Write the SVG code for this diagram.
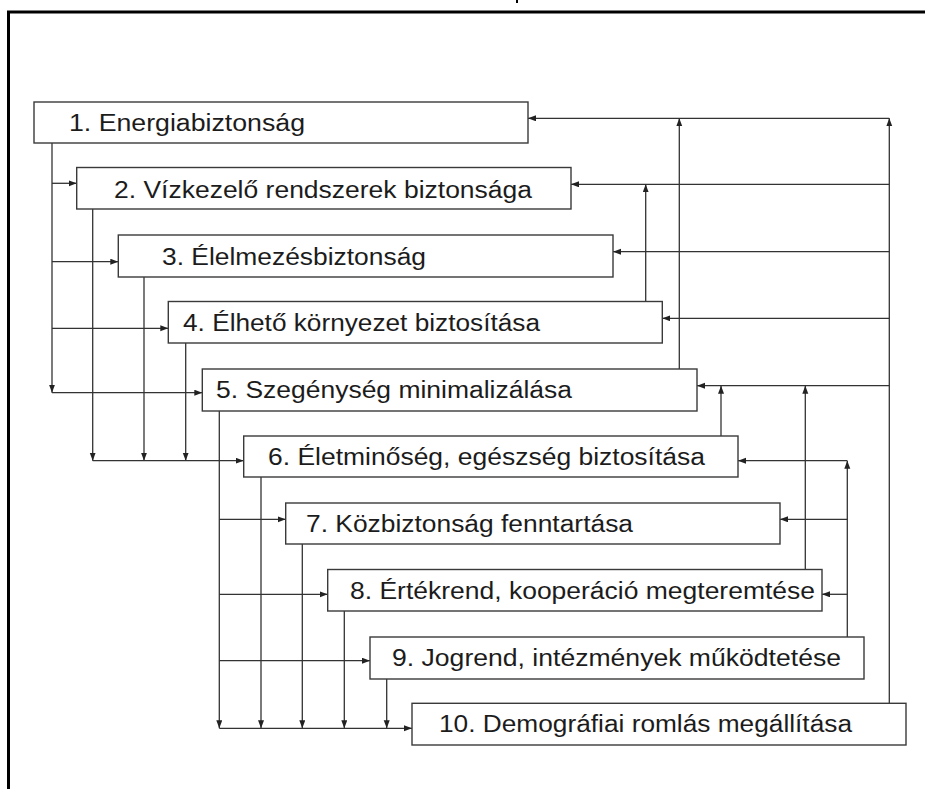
<svg xmlns="http://www.w3.org/2000/svg" width="925" height="789" viewBox="0 0 925 789">
<style>
.box{fill:#fff;stroke:#3a3a3a;stroke-width:1.4}
.lbl{font-family:"Liberation Sans",Arial,sans-serif;font-size:23px;fill:#1c1c1c}
.c path{fill:none;stroke:#333;stroke-width:1.3}
.c path.a{marker-end:url(#ah)}
</style>
<defs>
<marker id="ah" markerUnits="userSpaceOnUse" markerWidth="9" markerHeight="7" refX="8" refY="3" orient="auto">
<path d="M0,0 L8,3 L0,6 z" fill="#222"/>
</marker>
</defs>
<rect width="925" height="789" fill="#fff"/>
<polyline points="8.5,789 8.5,12 925,12" fill="none" stroke="#000" stroke-width="3"/>
<rect x="516" y="0" width="2" height="3" fill="#000"/>
<g class="c" id="connectors">
<path class="a" d="M52,143 V392.7"/>
<path class="a" d="M52,183.3 H76.7"/>
<path class="a" d="M52,261.7 H118.3"/>
<path class="a" d="M52,328.3 H168.3"/>
<path class="a" d="M52,392.7 H202.3"/>
<path class="a" d="M92.7,209 V460.7"/>
<path class="a" d="M144,277 V460.7"/>
<path class="a" d="M185.7,343 V460.7"/>
<path class="a" d="M92.7,460.7 H243.7"/>
<path class="a" d="M219.3,411 V728.3"/>
<path class="a" d="M219.3,519.3 H285.7"/>
<path class="a" d="M219.3,594.3 H327.7"/>
<path class="a" d="M219.3,660.7 H370"/>
<path class="a" d="M261,477 V728.3"/>
<path class="a" d="M302.3,544 V728.3"/>
<path class="a" d="M344.3,611 V728.3"/>
<path class="a" d="M386.7,679 V728.3"/>
<path class="a" d="M219.3,728.3 H412"/>
<path class="a" d="M889.3,703 V118.3"/>
<path class="a" d="M889.3,118.3 H528"/>
<path class="a" d="M889.3,184.3 H571"/>
<path class="a" d="M889.3,251.7 H613"/>
<path class="a" d="M889.3,318.3 H662.3"/>
<path class="a" d="M889.3,385.7 H697"/>
<path class="a" d="M679.3,369 V118.3"/>
<path class="a" d="M645.7,301 V184.3"/>
<path class="a" d="M721,436 V385.7"/>
<path class="a" d="M805.3,569 V385.7"/>
<path class="a" d="M847.3,637 V460.7"/>
<path class="a" d="M847.3,460.7 H738"/>
<path class="a" d="M847.3,519.3 H780"/>
<path class="a" d="M847.3,594.3 H822"/>
</g>
<g id="n1"><rect class="box" x="34" y="102" width="494" height="41"/><text class="lbl" x="69" y="131" textLength="236" lengthAdjust="spacingAndGlyphs">1. Energiabiztonság</text></g>
<g id="n2"><rect class="box" x="76.7" y="167.5" width="494.3" height="41.5"/><text class="lbl" x="114" y="198" textLength="418" lengthAdjust="spacingAndGlyphs">2. Vízkezelő rendszerek biztonsága</text></g>
<g id="n3"><rect class="box" x="118.3" y="235" width="494.7" height="42"/><text class="lbl" x="162" y="265" textLength="264" lengthAdjust="spacingAndGlyphs">3. Élelmezésbiztonság</text></g>
<g id="n4"><rect class="box" x="168.3" y="301.5" width="494" height="41.5"/><text class="lbl" x="183" y="331" textLength="357" lengthAdjust="spacingAndGlyphs">4. Élhető környezet biztosítása</text></g>
<g id="n5"><rect class="box" x="202.3" y="369" width="494.7" height="42"/><text class="lbl" x="216" y="398" textLength="356" lengthAdjust="spacingAndGlyphs">5. Szegénység minimalizálása</text></g>
<g id="n6"><rect class="box" x="243.7" y="436" width="494.3" height="41"/><text class="lbl" x="268" y="465" textLength="437" lengthAdjust="spacingAndGlyphs">6. Életminőség, egészség biztosítása</text></g>
<g id="n7"><rect class="box" x="285.7" y="503" width="494.3" height="41"/><text class="lbl" x="306" y="532" textLength="327" lengthAdjust="spacingAndGlyphs">7. Közbiztonság fenntartása</text></g>
<g id="n8"><rect class="box" x="327.7" y="569.5" width="494.3" height="41.5"/><text class="lbl" x="350" y="599" textLength="465" lengthAdjust="spacingAndGlyphs">8. Értékrend, kooperáció megteremtése</text></g>
<g id="n9"><rect class="box" x="370" y="637" width="494" height="42"/><text class="lbl" x="392" y="666" textLength="449" lengthAdjust="spacingAndGlyphs">9. Jogrend, intézmények működtetése</text></g>
<g id="n10"><rect class="box" x="412" y="703.3" width="494" height="41.7"/><text class="lbl" x="439" y="732.3" textLength="413" lengthAdjust="spacingAndGlyphs">10. Demográfiai romlás megállítása</text></g>
</svg>
